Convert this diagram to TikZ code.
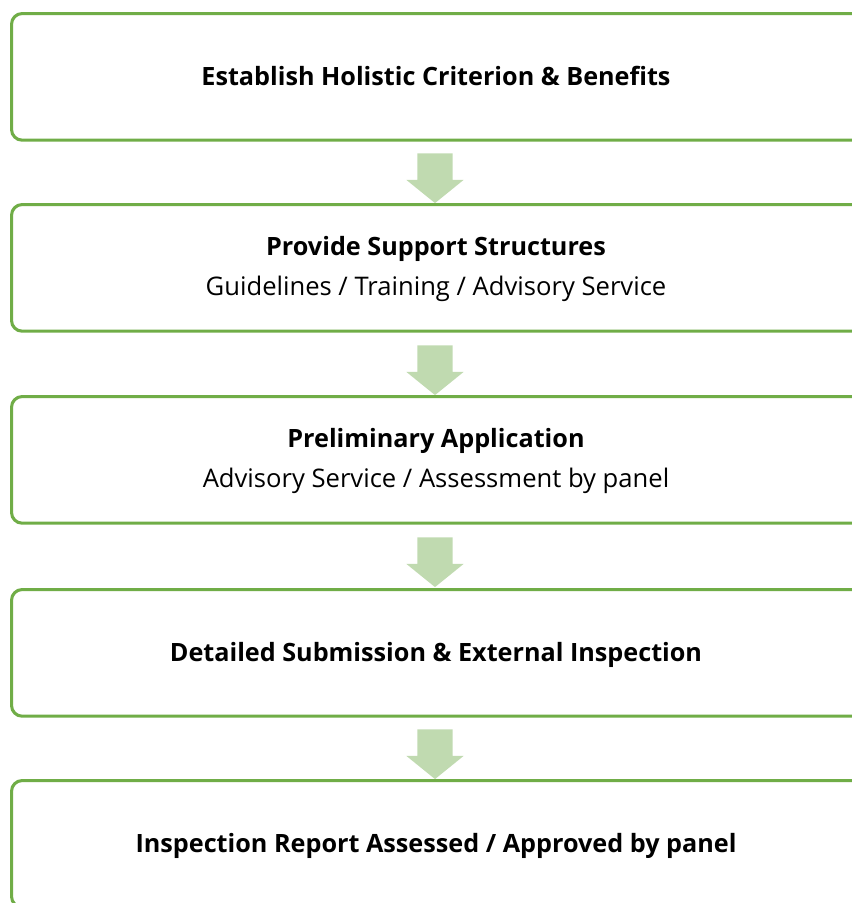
\documentclass[tikz,border=0pt]{standalone}
\usepackage{fontspec}
\setmainfont{Open Sans}
\usetikzlibrary{shapes.arrows}
\definecolor{boxgreen}{RGB}{112,173,71}
\definecolor{arrowgreen}{RGB}{192,218,176}
\begin{document}
\begin{tikzpicture}[x=0.75pt,y=-0.75pt,
  stagebox/.style={draw=boxgreen, line width=2.3pt, rounded corners=8pt, fill=white,
    anchor=north west, minimum width=660pt, minimum height=95pt, inner sep=0pt},
  titletext/.style={font=\fontsize{18.9}{22}\selectfont\bfseries, inner sep=0pt, anchor=base},
  subtext/.style={font=\fontsize{19.2}{22}\selectfont, inner sep=0pt, anchor=base},
  downarrow/.style={shape=single arrow, fill=arrowgreen, draw=none,
    shape border rotate=270, minimum height=36pt, inner sep=13.1pt,
    single arrow head extend=8.25pt, single arrow tip angle=102}]
\useasboundingbox (0,0) rectangle (852,903);
\clip (0,0) rectangle (852,903);
\node[stagebox] (b1) at (10,12) {};
\node[stagebox] (b2) at (10,203) {};
\node[stagebox] (b3) at (10,395) {};
\node[stagebox] (b4) at (10,588) {};
\node[stagebox] (b5) at (10,779) {};
\node[titletext] (t1) at (436,85) {Establish Holistic Criterion \& Benefits};
\node[titletext] (t2) at (436,255) {Provide Support Structures};
\node[subtext] (s2) at (436,295) {Guidelines / Training / Advisory Service};
\node[titletext] (t3) at (436,447) {Preliminary Application};
\node[subtext] (s3) at (436,487) {Advisory Service / Assessment by panel};
\node[titletext] (t4) at (436,661) {Detailed Submission \& External Inspection};
\node[titletext] (t5) at (436,852) {Inspection Report Assessed / Approved by panel};
\node[downarrow] (a1) at (435,171) {};
\node[downarrow] (a2) at (435,363) {};
\node[downarrow] (a3) at (435,555) {};
\node[downarrow] (a4) at (435,747) {};
\end{tikzpicture}
\end{document}
